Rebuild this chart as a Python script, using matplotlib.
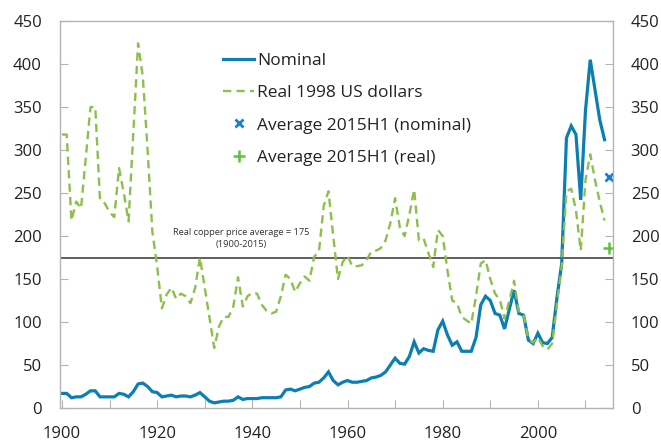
import numpy as np
import matplotlib
matplotlib.use("Agg")
import matplotlib.pyplot as plt

plt.rcParams['font.family'] = ['Open Sans', 'DejaVu Sans']

years = list(range(1900, 2015))

nominal = [17, 17, 12, 13, 13, 16, 20, 20, 13, 13,
           13, 13, 17, 16, 13, 19, 28, 29, 25, 19,
           18, 13, 14, 15, 13, 14, 14, 13, 15, 18,
           13, 8, 6, 7, 8, 8, 9, 13, 10, 11,
           11, 11, 12, 12, 12, 12, 13, 21, 22, 20,
           22, 24, 25, 29, 30, 35, 42, 32, 27, 30,
           32, 30, 30, 31, 32, 35, 36, 38, 42, 50,
           58, 52, 51, 60, 77, 64, 69, 67, 66, 91,
           101, 85, 73, 77, 66, 66, 66, 82, 120, 130,
           125, 110, 108, 92, 115, 137, 110, 108, 79, 75,
           87, 76, 75, 82, 128, 168, 314, 328, 318, 242,
           346, 405, 370, 335, 312]

real = [318, 318, 218, 240, 232, 290, 350, 350, 242, 238,
        228, 222, 279, 250, 217, 320, 424, 385, 300, 205,
        165, 116, 132, 140, 127, 133, 130, 122, 140, 175,
        140, 105, 70, 95, 106, 106, 118, 152, 118, 130,
        134, 133, 120, 113, 110, 112, 130, 155, 150, 135,
        145, 153, 148, 176, 182, 235, 252, 200, 150, 170,
        177, 165, 165, 166, 172, 182, 183, 186, 195, 215,
        244, 210, 200, 225, 254, 195, 197, 180, 164, 207,
        200, 160, 125, 122, 106, 102, 98, 130, 168, 172,
        150, 133, 126, 104, 125, 148, 111, 108, 80, 76,
        82, 72, 68, 75, 120, 165, 252, 255, 230, 183,
        265, 295, 265, 240, 218]

avg_year = 2015
avg_nominal = 269
avg_real = 186
real_average = 175

blue = '#0b7fb2'
green = '#8cc04a'

fig = plt.figure(figsize=(6.61, 4.44), dpi=100)
ax = fig.add_axes([0.0908, 0.081, 0.836, 0.8717])

ax.plot(years, nominal, color=blue, lw=2.3, label='Nominal', solid_joinstyle='miter')
ax.plot(years, real, color=green, lw=1.7, ls=(0, (3.5, 2.2)), label='Real 1998 US dollars')
ax.plot([avg_year], [avg_nominal], ls='none', marker='x', ms=6, mew=2, color='#1a80c4',
        label='Average 2015H1 (nominal)')
ax.plot([avg_year], [avg_real], ls='none', marker='+', ms=9, mew=1.8, color='#5cc23c',
        label='Average 2015H1 (real)')
ax.axhline(real_average, color='#333333', lw=1.1, zorder=1)
ax.text(1937.7, 185, 'Real copper price average = 175\n(1900-2015)', ha='center', va='bottom',
        fontsize=6.7, color='#333333', linespacing=1.35)

ax.set_xlim(1899.6, 2015.7)
ax.set_ylim(0, 450)
ax.set_yticks(range(0, 451, 50))
ax.set_xticks(range(1900, 2011, 10))
ax.set_xticklabels([str(y) if (y - 1900) % 20 == 0 else '' for y in range(1900, 2011, 10)])

for s in ax.spines.values():
    s.set_color('#b4b4b4')
    s.set_linewidth(1.0)
ax.tick_params(direction='in', length=6, color='#b4b4b4', labelsize=12, labelcolor='#222222',
               right=True, labelright=True)
ax.tick_params(axis='x', pad=13)
ax.tick_params(axis='y', pad=13)

leg = ax.legend(loc='upper left', bbox_to_anchor=(0.283, 0.935), frameon=False, fontsize=12.5,
                handlelength=1.75, handletextpad=0.2, labelspacing=0.92, borderaxespad=0)
for t in leg.get_texts():
    t.set_color('#222222')

fig.savefig('out.png', dpi=100)
